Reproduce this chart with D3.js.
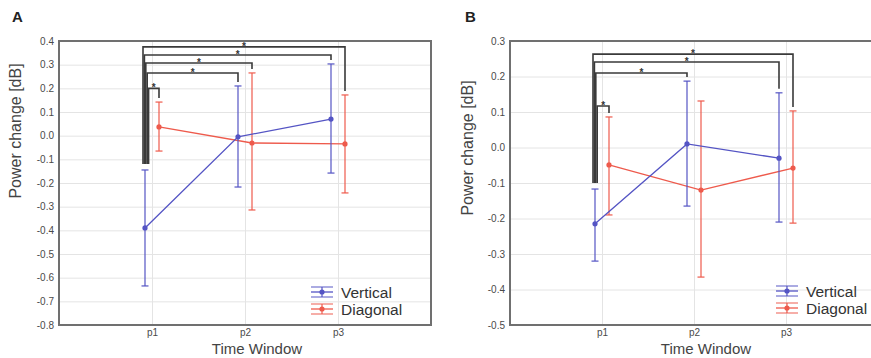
<!DOCTYPE html>
<html>
<head>
<meta charset="utf-8">
<script src="https://cdn.jsdelivr.net/npm/d3@7"></script>
<style>
  body { margin: 0; background: #fff; }
  svg { display: block; font-family: "Liberation Sans", Arial, sans-serif; }
</style>
</head>
<body>
<div class="chart"></div>
<script>
var svgWidth = 871;
var svgHeight = 358;

// time windows on the x axis
var timeWindows = ["p1", "p2", "p3"];
var seriesNames = ["Vertical", "Diagonal"];

// panel A values (mean and error bar ends)
var aVerticalMean = [-0.39, -0.005, 0.07];
var aVerticalLow = [-0.635, -0.217, -0.158];
var aVerticalHigh = [-0.145, 0.21, 0.303];
var aDiagonalMean = [0.037, -0.031, -0.035];
var aDiagonalLow = [-0.065, -0.314, -0.242];
var aDiagonalHigh = [0.142, 0.265, 0.172];
var aYTicks = [0.4, 0.3, 0.2, 0.1, 0.0, -0.1, -0.2, -0.3, -0.4, -0.5, -0.6, -0.7, -0.8];

// panel B values
var bVerticalMean = [-0.215, 0.01, -0.03];
var bVerticalLow = [-0.32, -0.165, -0.21];
var bVerticalHigh = [-0.117, 0.187, 0.154];
var bDiagonalMean = [-0.049, -0.12, -0.058];
var bDiagonalLow = [-0.19, -0.365, -0.213];
var bDiagonalHigh = [0.086, 0.131, 0.103];
var bYTicks = [0.3, 0.2, 0.1, 0.0, -0.1, -0.2, -0.3, -0.4, -0.5];

// significance brackets: [to series, to time index, bracket level]
// all start at Vertical p1
var aBrackets = [[1, 2, 0.375], [0, 2, 0.341], [1, 1, 0.307], [0, 1, 0.265], [1, 0, 0.2]];
var bBrackets = [[1, 2, 0.263], [0, 2, 0.241], [0, 1, 0.21], [1, 0, 0.117]];

var colors = ["#5454c4", "#ee5a4c"];

var svg = d3.select(".chart")
  .append("svg")
  .attr("width", svgWidth)
  .attr("height", svgHeight);

function drawPanel(p) {
  var g = svg.append("g");

  var x = d3.scaleLinear().domain([0, 4]).range([p.left, p.right]);
  var y = d3.scaleLinear().domain([d3.min(p.yTicks), d3.max(p.yTicks)]).range([p.bottom, p.top]);
  var width = p.right - p.left;
  var height = p.bottom - p.top;
  var offset = [-7, 7];

  g.append("rect")
    .attr("x", p.left).attr("y", p.top)
    .attr("width", width).attr("height", height)
    .attr("fill", "#fff");

  // y grid + labels
  var leftAxis = d3.axisLeft(y)
    .tickValues(p.yTicks)
    .tickSize(-width)
    .tickPadding(5)
    .tickFormat(d => d.toFixed(1));
  var yAxis = g.append("g")
    .attr("transform", `translate(${p.left},0)`)
    .call(leftAxis);
  yAxis.select(".domain").remove();
  yAxis.selectAll("line").attr("stroke", "#e4e4e4");
  yAxis.selectAll("text").attr("fill", "#4a4a4a").style("font-size", "10px");

  // x grid + labels
  var bottomAxis = d3.axisBottom(x)
    .tickValues([1, 2, 3])
    .tickSize(-height)
    .tickPadding(4)
    .tickFormat(d => timeWindows[d - 1]);
  var xAxis = g.append("g")
    .attr("transform", `translate(0,${p.bottom})`)
    .call(bottomAxis);
  xAxis.select(".domain").remove();
  xAxis.selectAll("line").attr("stroke", "#e4e4e4");
  xAxis.selectAll("text").attr("fill", "#4a4a4a").style("font-size", "10px");

  // frame
  g.append("rect")
    .attr("x", p.left).attr("y", p.top)
    .attr("width", width).attr("height", height)
    .attr("fill", "none")
    .attr("stroke", "#707070")
    .attr("stroke-width", 2);

  // series
  var series = [
    { mean: p.vMean, low: p.vLow, high: p.vHigh },
    { mean: p.dMean, low: p.dLow, high: p.dHigh }
  ];

  // draw diagonal first, vertical on top
  [1, 0].forEach(function(s) {
    var d = series[s];
    var pts = timeWindows.map((t, i) => ({ i: i, m: d.mean[i], lo: d.low[i], hi: d.high[i] }));
    var sx = i => x(i + 1) + offset[s];

    g.selectAll(".eb" + s)
      .data(pts).enter()
      .append("line")
      .attr("x1", e => sx(e.i)).attr("x2", e => sx(e.i))
      .attr("y1", e => y(e.lo)).attr("y2", e => y(e.hi))
      .attr("stroke", colors[s]).attr("stroke-width", 1.2);

    ["lo", "hi"].forEach(function(k) {
      g.selectAll(".cap" + s + k)
        .data(pts).enter()
        .append("line")
        .attr("x1", e => sx(e.i) - 3.5).attr("x2", e => sx(e.i) + 3.5)
        .attr("y1", e => y(e[k])).attr("y2", e => y(e[k]))
        .attr("stroke", colors[s]).attr("stroke-width", 1.2);
    });

    g.append("path")
      .datum(pts)
      .attr("fill", "none")
      .attr("stroke", colors[s])
      .attr("stroke-width", 1.3)
      .attr("d", d3.line().x(e => sx(e.i)).y(e => y(e.m)));

    g.selectAll(".dot" + s)
      .data(pts).enter()
      .append("circle")
      .attr("cx", e => sx(e.i)).attr("cy", e => y(e.m))
      .attr("r", 2.6)
      .attr("fill", colors[s]);
  });

  // significance brackets
  var legBottom = y(p.vHigh[0]) - 6;
  p.brackets.forEach(function(b, k) {
    var x0 = x(1) + offset[0] - 2 + k * 1.4;
    var x1 = x(b[1] + 1) + offset[b[0]];
    var yl = y(b[2]);
    var yr = y(series[b[0]].high[b[1]]) - 4;
    g.append("path")
      .attr("d", `M${x0},${legBottom}V${yl}H${x1}V${yr}`)
      .attr("fill", "none")
      .attr("stroke", "#3a3a3a")
      .attr("stroke-width", 1.6);
    g.append("text")
      .attr("x", (x0 + x1) / 2)
      .attr("y", yl + 3)
      .attr("text-anchor", "middle")
      .attr("fill", "#333")
      .style("font-size", "10px")
      .style("font-weight", "bold")
      .text("*");
  });

  // legend
  seriesNames.forEach(function(name, s) {
    var ly = p.legendY + s * 17;
    var lg = g.append("g");
    [-5, 0, 5].forEach(function(dy) {
      lg.append("line")
        .attr("x1", p.legendX).attr("x2", p.legendX + 22)
        .attr("y1", ly + dy).attr("y2", ly + dy)
        .attr("stroke", colors[s])
        .attr("stroke-width", 1.3)
        .attr("opacity", dy === 0 ? 1 : 0.75);
    });
    lg.append("line")
      .attr("x1", p.legendX + 11).attr("x2", p.legendX + 11)
      .attr("y1", ly - 5).attr("y2", ly + 5)
      .attr("stroke", colors[s]).attr("stroke-width", 1.2);
    lg.append("circle")
      .attr("cx", p.legendX + 11).attr("cy", ly)
      .attr("r", 2.6).attr("fill", colors[s]);
    lg.append("text")
      .attr("x", p.legendX + 30).attr("y", ly + 5.5)
      .attr("fill", "#333")
      .style("font-size", "15.5px")
      .text(name);
  });

  // axis labels
  g.append("text")
    .attr("transform", `translate(${p.yLabelX},${p.yLabelY}) rotate(-90)`)
    .attr("text-anchor", "middle")
    .attr("fill", "#444")
    .style("font-size", "16px")
    .text("Power change [dB]");

  g.append("text")
    .attr("x", p.xLabelX)
    .attr("y", 354)
    .attr("text-anchor", "middle")
    .attr("fill", "#444")
    .style("font-size", "15px")
    .text("Time Window");

  g.append("text")
    .attr("x", p.titleX)
    .attr("y", 22)
    .attr("fill", "#222")
    .style("font-size", "15px")
    .style("font-weight", "bold")
    .text(p.title);
}

drawPanel({
  title: "A", titleX: 12,
  left: 59, right: 431, top: 41, bottom: 325,
  yTicks: aYTicks,
  vMean: aVerticalMean, vLow: aVerticalLow, vHigh: aVerticalHigh,
  dMean: aDiagonalMean, dLow: aDiagonalLow, dHigh: aDiagonalHigh,
  brackets: aBrackets,
  legendX: 311, legendY: 292,
  yLabelX: 21, yLabelY: 131, xLabelX: 257
});

drawPanel({
  title: "B", titleX: 465,
  left: 510, right: 878, top: 41, bottom: 325,
  yTicks: bYTicks,
  vMean: bVerticalMean, vLow: bVerticalLow, vHigh: bVerticalHigh,
  dMean: bDiagonalMean, dLow: bDiagonalLow, dHigh: bDiagonalHigh,
  brackets: bBrackets,
  legendX: 776, legendY: 291,
  yLabelX: 473, yLabelY: 148, xLabelX: 706
});
</script>
</body>
</html>
